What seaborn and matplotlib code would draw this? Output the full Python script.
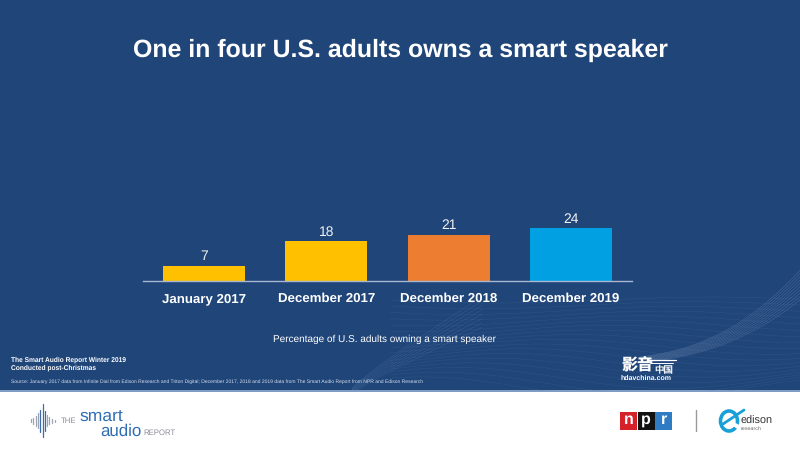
import numpy as np
import pandas as pd
import seaborn as sns
import matplotlib
matplotlib.use('Agg')
import matplotlib.pyplot as plt
from matplotlib.patches import Rectangle, Ellipse

categories = ['January 2017', 'December 2017', 'December 2018', 'December 2019']
values = [7, 18, 21, 24]
bar_colors = ['#FFC000', '#FFC000', '#ED7D31', '#00A0E3']

title = 'One in four U.S. adults owns a smart speaker'
subtitle = 'Percentage of U.S. adults owning a smart speaker'
report = 'The Smart Audio Report Winter 2019\nConducted post-Christmas'
source = ('Source: January 2017 data from Infinite Dial from Edison Research and Triton Digital; '
          'December 2017, 2018 and 2019 data from The Smart Audio Report from NPR and Edison Research')

W, H = 800, 450
BG = '#1F4579'
CJK = ['Noto Sans CJK SC', 'DejaVu Sans']

sns.set_theme(style='white')
plt.rcParams['font.family'] = ['Liberation Sans', 'DejaVu Sans']
plt.rcParams['text.hinting'] = 'no_hinting'

fig = plt.figure(figsize=(8, 4.5), dpi=100, facecolor='white')

# full page layer in pixel coords, for background, texts and logos
page = fig.add_axes([0, 0, 1, 1], zorder=0)
page.set_xlim(0, W)
page.set_ylim(H, 0)
page.axis('off')
bg = Rectangle((0, 0), W, 391, color=BG, lw=0)
page.add_patch(bg)
page.add_patch(Rectangle((0, 390), W, 1.5, color='#7F9CC4', lw=0))

# faint decoration behind the footer, only the background, not data
t = np.linspace(0, 1, 80)
for i in range(18):
    ln, = page.plot(390 + 410 * t, 300 + i * 5.2 + (3 + i * 0.5) * np.sin(t * 6 + i * 0.25),
                    color='#5A7BAD', lw=0.3, alpha=0.3)
    ln.set_clip_path(bg)
for i in range(10):
    # lower right band, tight in the middle and opening up at the edge
    s = (i - 4.5) * (0.7 + 2.6 * t ** 2)
    ln, = page.plot(640 + 160 * t, 360 - 20 * t - 55 * t ** 2.4 + s, color='#9DB3D3', lw=0.3, alpha=0.4)
    ln.set_clip_path(bg)
for i in range(8):
    # band running up from the footer towards the subtitle
    s = (i - 3.5) * (0.9 + 3.5 * t)
    ln, = page.plot(352 + 130 * t, 392 - 60 * t - 20 * t ** 0.6 + s, color='#7F9CC4', lw=0.3, alpha=0.3)
    ln.set_clip_path(bg)

page.text(400, 50, title, color='white', fontsize=17.9, fontweight='bold', ha='center', va='center')
page.text(384.5, 339, subtitle, color='white', fontsize=7.2, ha='center', va='center')
page.text(11, 364, report, color='white', fontsize=4.8, fontweight='bold', ha='left', va='center', linespacing=1.2)
page.text(11, 381.5, source, color='#D5DEEC', fontsize=3.62, ha='left', va='center')

# watermark
page.text(621, 365.5, '影音', color='white', fontsize=11.5, fontweight='bold', style='italic',
          family=CJK, ha='left', va='center')
page.text(654, 369.5, '中国', color='white', fontsize=6.8, family=CJK, ha='left', va='center')
page.plot([648, 676], [360, 360], color='white', lw=0.9)
page.plot([650, 673], [363, 363], color='white', lw=0.7)
page.text(621, 378, 'hdavchina.com', color='white', fontsize=5, fontweight='bold', ha='left', va='center')

# smart audio logo
wave_x = [30.5, 33, 35.5, 38, 40, 42.5, 44.5, 46.5, 49, 51.5, 55]
wave_h = [3, 6, 10, 15, 22, 33, 20, 11, 7, 4, 2]
for wx, wh in zip(wave_x, wave_h):
    page.plot([wx, wx], [420.5 - wh / 2, 420.5 + wh / 2], color='#3F6CA8' if wh > 18 else '#9AA5B5', lw=0.9)
page.text(61, 421, 'THE', color='#8A8F96', fontsize=5.6, va='center')
page.text(80, 417, 'smart', color='#2E6DB4', fontsize=12.6, va='center')
page.text(100, 431.5, 'audio', color='#2E6DB4', fontsize=12.2, va='center')
page.text(143, 432.5, 'REPORT', color='#8A8F96', fontsize=5.6, va='center')

# npr logo
npr_x = [620, 637.5, 655]
npr_c = ['#D6202A', '#111111', '#2F7BC4']
for nx, nc, letter in zip(npr_x, npr_c, 'npr'):
    page.add_patch(Rectangle((nx, 412), 17.3, 17.5, color=nc, lw=0))
    page.text(nx + 8.6, 420, letter, color='white', fontsize=11.5, fontweight='bold', ha='center', va='center')
page.plot([695.5, 695.5], [410, 431], color='#9A9A9A', lw=1)

# edison logo
page.add_patch(Ellipse((729, 421), 17, 20, fill=False, ec='#1AA0D8', lw=2.6))
page.plot([723, 744], [424, 410], color='#1AA0D8', lw=2)
page.plot([735, 740], [425, 428], color=(1, 1, 1), lw=3)
page.text(741, 421.5, 'edison', color='#333333', fontsize=7.8, va='center')
page.text(741, 429, 'research', color='#666666', fontsize=3.9, va='center')

# chart itself, axis spans px 143-632 and baseline at y=281
top_px, base_px, left_px, right_px = 100, 281, 143, 632
ax = fig.add_axes([left_px / W, 1 - base_px / H, (right_px - left_px) / W, (base_px - top_px) / H], zorder=2)
ax.patch.set_alpha(0)

df = pd.DataFrame({'when': categories, 'pct': values})
sns.barplot(data=df, x='when', y='pct', hue='when', palette=bar_colors, width=0.67,
            saturation=1, legend=False, edgecolor='none', linewidth=0, ax=ax)
ax.set_ylim(0, (base_px - top_px) / 2.2)
ax.set_xlim(-0.5, 3.5)
for c in ax.containers:
    ax.bar_label(c, color='#F2F2F2', fontsize=10, padding=2)

ax.set_xlabel('')
ax.set_ylabel('')
ax.set_yticks([])
# baseline alignment, otherwise the label with the descender sits a pixel lower
ax.tick_params(axis='x', length=0, pad=15.1, colors='white', labelsize=9.5)
for lab in ax.get_xticklabels():
    lab.set_fontweight('bold')
    lab.set_va('baseline')
sns.despine(ax=ax, left=True)
ax.spines['bottom'].set_color('#A9B8CF')
ax.spines['bottom'].set_linewidth(1)

fig.savefig('out.png', dpi=100)
